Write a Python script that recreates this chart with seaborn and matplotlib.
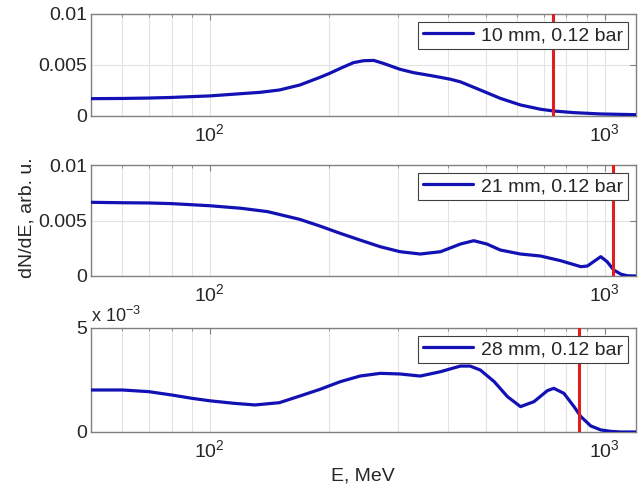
import numpy as np
import pandas as pd
import matplotlib
matplotlib.use("Agg")
import matplotlib.pyplot as plt
import matplotlib.ticker as mticker
import seaborn as sns

# ---- data ----
e_top = [50, 60, 70, 80, 90, 100, 119, 134, 150, 169, 190, 201, 214, 231, 245, 260,
         275, 303, 328, 368, 407, 431, 484, 544, 612, 688, 743, 836, 977, 1200]
v_top = [0.00170, 0.00172, 0.00176, 0.00182, 0.00190, 0.00197, 0.00218, 0.00232,
         0.00255, 0.00304, 0.00379, 0.00418, 0.00467, 0.00523, 0.00542, 0.00545,
         0.00516, 0.00458, 0.00425, 0.00392, 0.00360, 0.00335, 0.00255, 0.00173,
         0.00108, 0.00066, 0.00049, 0.00033, 0.00020, 0.00013]

e_mid = [50, 60, 70, 80, 100, 120, 140, 169, 190, 214, 240, 270, 303, 341, 384, 431,
         466, 503, 544, 612, 688, 773, 870, 904, 950, 977, 1014, 1054, 1101, 1142, 1200]
v_mid = [0.00664, 0.00660, 0.00658, 0.00652, 0.00633, 0.00610, 0.00580, 0.00510,
         0.00450, 0.00384, 0.00324, 0.00264, 0.00219, 0.00198, 0.00219, 0.00288,
         0.00318, 0.00288, 0.00234, 0.00198, 0.00180, 0.00138, 0.00084, 0.00090,
         0.00144, 0.00174, 0.00129, 0.00054, 0.00015, 0.00002, 0.0]

e_bot = [50, 60, 70, 80, 90, 100, 115, 130, 150, 169, 190, 214, 240, 270, 303, 341,
         384, 431, 456, 484, 525, 567, 612, 662, 716, 743, 788, 836, 870, 922, 977,
         1036, 1100, 1200]
v_bot = [2.02e-3, 2.02e-3, 1.94e-3, 1.78e-3, 1.62e-3, 1.50e-3, 1.38e-3, 1.30e-3,
         1.41e-3, 1.73e-3, 2.05e-3, 2.42e-3, 2.69e-3, 2.82e-3, 2.79e-3, 2.69e-3,
         2.90e-3, 3.17e-3, 3.17e-3, 2.98e-3, 2.42e-3, 1.70e-3, 1.22e-3, 1.46e-3,
         1.99e-3, 2.10e-3, 1.86e-3, 1.22e-3, 0.74e-3, 0.29e-3, 0.10e-3, 0.03e-3,
         0.0, 0.0]

labels = ["10 mm, 0.12 bar", "21 mm, 0.12 bar", "28 mm, 0.12 bar"]
cutoffs = [740, 1050, 860]
ymax = [0.01, 0.01, 0.005]
yticks = [[0, 0.005, 0.01], [0, 0.005, 0.01], [0, 0.005]]
yticklabels = [["0", "0.005", "0.01"], ["0", "0.005", "0.01"], ["0", "5"]]

# ---- style ----
sns.set_style("white")
plt.rcParams["font.family"] = ["Liberation Sans", "DejaVu Sans"]
plt.rcParams["mathtext.fontset"] = "custom"
plt.rcParams["mathtext.rm"] = "Liberation Sans"
plt.rcParams["mathtext.it"] = "Liberation Sans"
plt.rcParams["mathtext.default"] = "regular"

FS = 14
TXT = "#262626"
SPINE = "#808080"
BLUE = "#1212b4"
RED = "#e01e1e"

fig = plt.figure(figsize=(6.38, 4.88), dpi=100)
W = 638.0
H = 488.0
left, right = 91, 636
boxes = [(14, 116), (165, 276), (328, 432)]

series = [(e_top, v_top), (e_mid, v_mid), (e_bot, v_bot)]

for i, ((top, bot), (ev, vv)) in enumerate(zip(boxes, series)):
    ax = fig.add_axes([left / W, 1 - bot / H, (right - left) / W, (bot - top) / H])
    df = pd.DataFrame({"E": ev, "v": vv})
    sns.lineplot(data=df, x="E", y="v", ax=ax, color=BLUE, lw=2.3,
                 label=labels[i], zorder=3)
    ax.axvline(cutoffs[i], color=RED, lw=2.2, zorder=4)
    ax.set_xscale("log")
    ax.set_xlim(50, 1200)
    ax.set_ylim(0, ymax[i])
    ax.set_yticks(yticks[i])
    ax.set_yticklabels(yticklabels[i])
    ax.xaxis.set_major_locator(mticker.LogLocator(base=10, numticks=10))
    ax.xaxis.set_minor_locator(mticker.LogLocator(base=10, subs=np.arange(2, 10), numticks=10))
    ax.xaxis.set_minor_formatter(mticker.NullFormatter())
    ax.set_xlabel("")
    ax.set_ylabel("")
    ax.grid(True, which="both", axis="x", color="#e3e3e3", lw=0.8, zorder=0)
    ax.grid(True, which="major", axis="y", color="#e3e3e3", lw=0.8, zorder=0)
    for sp in ax.spines.values():
        sp.set_color(SPINE)
        sp.set_linewidth(1.0)
        sp.set_visible(True)
    ax.tick_params(axis="both", which="both", direction="in", top=True, right=True,
                   colors=SPINE, labelcolor=TXT, labelsize=FS)
    ax.tick_params(axis="both", which="major", length=4)
    ax.tick_params(axis="x", which="minor", length=2.5)
    ax.tick_params(axis="x", which="major", pad=5)
    ax.tick_params(axis="y", which="major", pad=3)
    leg = ax.legend(loc="upper right", fontsize=FS, frameon=True, fancybox=False,
                    handlelength=2.6, handletextpad=0.4, borderpad=0.25,
                    borderaxespad=0.4, framealpha=1)
    leg.get_frame().set_edgecolor("#404040")
    leg.get_frame().set_linewidth(0.8)
    for t in leg.get_texts():
        t.set_color(TXT)
    if i == 2:
        ax.text(0.0, 1.02, r"x 10$^{-3}$", transform=ax.transAxes, ha="left",
                va="bottom", fontsize=FS - 1, color=TXT)

fig.text(27 / W, 1 - 218 / H, "dN/dE, arb. u.", rotation=90, ha="center",
         va="center", fontsize=FS, color=TXT)
fig.text(363 / W, 1 - 476 / H, "E, MeV", ha="center", va="center",
         fontsize=FS, color=TXT)

fig.savefig("out.png", dpi=100, facecolor="white")
